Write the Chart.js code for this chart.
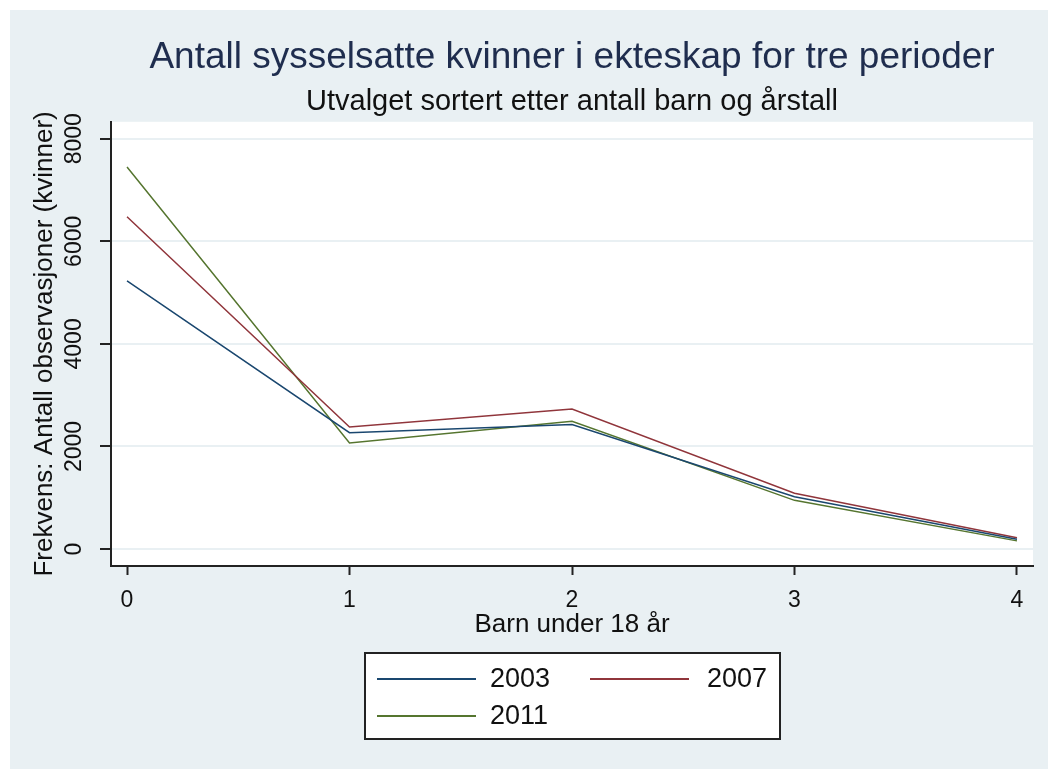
<!DOCTYPE html>
<html>
<head>
<meta charset="utf-8">
<script src="https://cdn.jsdelivr.net/npm/chart.js@4.4.1/dist/chart.umd.min.js"></script>
<style>
  html, body { margin: 0; padding: 0; background: #fff; }
  canvas { display: block; }
</style>
</head>
<body>
<canvas id="chart" width="1048" height="769"></canvas>
<script>
// Barn under 18 år (x) and antall kvinner per år
const barn = [0, 1, 2, 3, 4];
const years = ['2003', '2007', '2011'];
const v2003 = [5230, 2270, 2430, 1020, 190];
const v2007 = [6480, 2380, 2730, 1090, 220];
const v2011 = [7450, 2070, 2490, 950, 160];
const yTicks = [0, 2000, 4000, 6000, 8000];
const colors = ['#1a476f', '#90353b', '#55752f'];

const font = '"Liberation Sans", Arial, sans-serif';
const pts = vals => barn.map((b, i) => ({ x: b, y: vals[i] }));

// grey graph region + white plot region
const background = {
  id: 'background',
  beforeDraw(chart) {
    const { ctx, width, height, chartArea: a } = chart;
    ctx.save();
    ctx.fillStyle = '#fff';
    ctx.fillRect(0, 0, width, height);
    ctx.fillStyle = '#e9f0f3';
    ctx.fillRect(10, 10, width - 10, height - 10);
    ctx.fillStyle = '#fff';
    ctx.fillRect(a.left, a.top, a.right - a.left, a.bottom - a.top);
    ctx.restore();
  }
};

// boxed legend, two columns like Stata
const boxLegend = {
  id: 'boxLegend',
  afterDraw(chart) {
    const { ctx, chartArea: a } = chart;
    const w = 415, h = 86;
    const left = Math.round((a.left + a.right) / 2 - w / 2);
    const top = a.bottom + 87;
    const lineX = [12, 225], textX = [125, 342];
    ctx.save();
    ctx.fillStyle = '#fff';
    ctx.fillRect(left, top, w, h);
    ctx.strokeStyle = '#222';
    ctx.lineWidth = 2;
    ctx.strokeRect(left, top, w, h);
    ctx.font = '27px ' + font;
    ctx.textBaseline = 'middle';
    ctx.fillStyle = '#111';
    chart.data.datasets.forEach((ds, i) => {
      const col = i % 2, row = Math.floor(i / 2);
      const y = top + 26 + row * 37;
      ctx.strokeStyle = ds.borderColor;
      ctx.lineWidth = 2;
      ctx.beginPath();
      ctx.moveTo(left + lineX[col], y);
      ctx.lineTo(left + lineX[col] + 99, y);
      ctx.stroke();
      ctx.fillText(ds.label, left + textX[col], y + 1);
    });
    ctx.restore();
  }
};

new Chart(document.getElementById('chart'), {
  type: 'line',
  data: {
    datasets: [
      { label: years[0], data: pts(v2003), borderColor: colors[0] },
      { label: years[1], data: pts(v2007), borderColor: colors[1] },
      { label: years[2], data: pts(v2011), borderColor: colors[2] }
    ]
  },
  options: {
    responsive: false,
    animation: false,
    devicePixelRatio: 1,
    layout: { padding: { top: 10, left: 10, right: 15, bottom: 123 } },
    elements: {
      point: { radius: 0 },
      line: { borderWidth: 1.5, tension: 0, fill: false }
    },
    plugins: {
      legend: { display: false },
      tooltip: { enabled: false },
      title: {
        display: true,
        fullSize: false,
        text: 'Antall sysselsatte kvinner i ekteskap for tre perioder',
        color: '#1f2d4e',
        font: { family: font, size: 37, weight: 'normal' },
        padding: { top: 26, bottom: 0 }
      },
      subtitle: {
        display: true,
        fullSize: false,
        text: 'Utvalget sortert etter antall barn og årstall',
        color: '#111',
        font: { family: font, size: 29, weight: 'normal' },
        padding: { top: 4, bottom: 2.6 }
      }
    },
    scales: {
      x: {
        type: 'linear',
        min: -0.072,
        max: 4.072,
        afterBuildTicks: s => { s.ticks = barn.map(v => ({ value: v })); },
        afterFit: s => { s.height = 80; },
        grid: { drawOnChartArea: false, tickLength: 9, tickColor: '#222', tickWidth: 2 },
        border: { color: '#222', width: 2 },
        ticks: {
          padding: 12, color: '#111', autoSkip: false, maxRotation: 0,
          font: { family: font, size: 23 },
          callback: v => String(v)
        },
        title: {
          display: true, text: 'Barn under 18 år', color: '#111',
          font: { family: font, size: 26 },
          padding: { top: 0, bottom: 5.5 }
        }
      },
      y: {
        type: 'linear',
        min: -330,
        max: 8330,
        afterBuildTicks: s => { s.ticks = yTicks.map(v => ({ value: v })); },
        afterFit: s => { s.width = 101; },
        grid: { color: '#e9f0f3', lineWidth: 2, tickLength: 11, tickColor: '#222', tickWidth: 2 },
        border: { color: '#222', width: 2 },
        ticks: {
          minRotation: 90, maxRotation: 90, crossAlign: 'center', padding: 0,
          autoSkip: false, color: '#111',
          font: { family: font, size: 23 },
          callback: v => String(v)
        },
        title: {
          display: true, text: 'Frekvens: Antall observasjoner (kvinner)', color: '#111',
          font: { family: font, size: 26 },
          padding: { top: 19, bottom: 0 }
        }
      }
    }
  },
  plugins: [background, boxLegend]
});
</script>
</body>
</html>
